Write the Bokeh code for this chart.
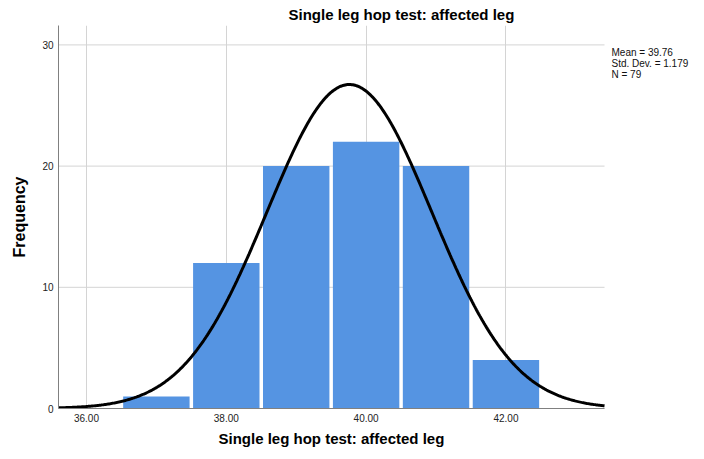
import numpy as np
from bokeh.plotting import figure
from bokeh.models import Range1d, FixedTicker, Label, PrintfTickFormatter, Title
from bokeh.embed import file_html
from bokeh.resources import INLINE

# ---- data ----
bin_centers = [37, 38, 39, 40, 41, 42]
frequencies = [1, 12, 20, 22, 20, 4]
mean = 39.76
std_dev = 1.179
n_obs = 79
bin_width = 1.0
x_ticks = [36, 38, 40, 42]
y_ticks = [0, 10, 20, 30]
title_text = "Single leg hop test: affected leg"
x_label = "Single leg hop test: affected leg"
y_label = "Frequency"
stats_lines = ["Mean = 39.76", "Std. Dev. = 1.179", "N = 79"]

FONT = "Liberation Sans"
x_lo, x_hi = 35.60, 43.41      # extent of the plotted axis
x_view_end = 44.84             # frame extends right to hold the statistics box

p = figure(width=704, height=459, x_range=Range1d(x_lo, x_view_end), y_range=Range1d(0, 31.6),
           output_backend="svg", toolbar_location=None,
           min_border_left=58, min_border_right=0, min_border_top=25, min_border_bottom=51)
p.outline_line_color = None
p.background_fill_color = "white"
p.border_fill_color = "white"

# title
p.title.text = title_text
p.title.align = "left"
p.title.offset = 230
p.title.standoff = 5
p.title.text_font = FONT
p.title.text_font_size = "15px"
p.title.text_font_style = "bold"
p.title.text_color = "#000000"

# grid
p.xgrid.ticker = FixedTicker(ticks=x_ticks)
p.xgrid.grid_line_color = "#d4d4d4"
p.ygrid.visible = False
hgrid = p.segment(x0=[x_lo] * len(y_ticks), y0=y_ticks, x1=[x_hi] * len(y_ticks), y1=y_ticks,
                  line_color="#d4d4d4", line_width=1)
hgrid.level = "underlay"

# axes
p.xaxis.ticker = FixedTicker(ticks=x_ticks)
p.yaxis.ticker = FixedTicker(ticks=y_ticks)
p.xaxis.formatter = PrintfTickFormatter(format="%.2f")
p.xaxis.bounds = (x_lo, x_hi)
for ax in (p.xaxis, p.yaxis):
    ax.axis_line_color = "#808080"
    ax.axis_line_width = 1
    ax.major_tick_line_color = None
    ax.minor_tick_line_color = None
    ax.major_tick_out = 0
    ax.major_tick_in = 0
    ax.major_label_text_font = FONT
    ax.major_label_text_font_size = "10px"
    ax.major_label_text_color = "#222222"
p.yaxis.axis_label = y_label
p.yaxis.axis_label_text_font = FONT
p.yaxis.axis_label_text_font_style = "bold"
p.yaxis.axis_label_text_color = "#000000"
p.yaxis.axis_label_text_font_size = "16px"
p.xaxis.major_label_standoff = 5
p.yaxis.major_label_standoff = 5
p.yaxis.axis_label_standoff = 11

# x-axis title, centred under the plotted axis (not the whole frame)
p.add_layout(Title(text=x_label, align="left", offset=160, standoff=6,
                   text_font=FONT, text_font_size="15px", text_font_style="bold",
                   text_color="#000000"), "below")

# bars
p.vbar(x=bin_centers, top=frequencies, bottom=0, width=bin_width * 0.95,
       fill_color="#5594e2", line_color=None)

# normal curve from stated mean / sd / N
xs = np.linspace(x_lo, x_hi, 500)
ys = n_obs * bin_width / (std_dev * np.sqrt(2 * np.pi)) * np.exp(-0.5 * ((xs - mean) / std_dev) ** 2)
p.line(xs, ys, line_color="#000000", line_width=3)

# stats text
for i, t in enumerate(stats_lines):
    p.add_layout(Label(x=553, y=362 - 11 * i, x_units="screen", y_units="screen", text=t,
                       text_font=FONT, text_font_size="10px", text_color="#111111",
                       text_baseline="top", text_align="left"))

open("out.html", "w").write(file_html(p, INLINE))
